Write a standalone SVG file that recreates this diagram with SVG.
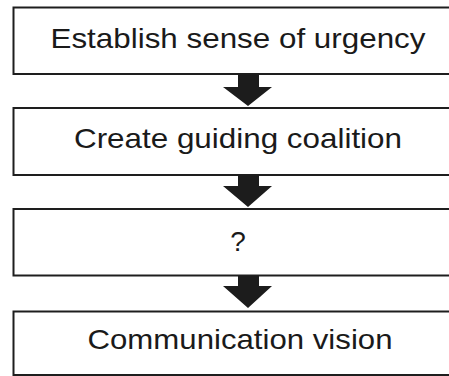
<svg xmlns="http://www.w3.org/2000/svg" width="449" height="376" viewBox="0 0 449 376">
  <style>
    .box { fill: #ffffff; stroke: #1e1e1e; stroke-width: 2; }
    .label { font-family: "Liberation Sans", Arial, sans-serif; font-size: 28px; fill: #1a1a1a; text-anchor: middle; }
    .arrow { fill: #1c1c1c; }
  </style>
  <rect x="0" y="0" width="449" height="376" fill="#ffffff"/>

  <g id="step-urgency">
    <rect class="box" x="13.5" y="7.5" width="470" height="66.5"/>
    <text class="label" x="238" y="48" textLength="375" lengthAdjust="spacingAndGlyphs">Establish sense of urgency</text>
  </g>

  <g id="step-coalition">
    <rect class="box" x="13.5" y="108" width="470" height="67"/>
    <text class="label" x="238" y="148" textLength="328" lengthAdjust="spacingAndGlyphs">Create guiding coalition</text>
  </g>

  <g id="step-unknown">
    <rect class="box" x="13.5" y="209" width="470" height="66.5"/>
    <text class="label" x="238" y="251">?</text>
  </g>

  <g id="step-vision">
    <rect class="box" x="13.5" y="311.5" width="470" height="63.5"/>
    <text class="label" x="240" y="349" textLength="305" lengthAdjust="spacingAndGlyphs">Communication vision</text>
  </g>

  <g id="connectors">
    <path class="arrow" d="M238 74 H259 V87 H272 L248 106 L223 87 H238 Z"/>
    <path class="arrow" d="M238 175 H259 V186 H272 L248 207 L223 186 H238 Z"/>
    <path class="arrow" d="M238 276 H259 V286 H272 L248 308 L223 286 H238 Z"/>
  </g>
</svg>
